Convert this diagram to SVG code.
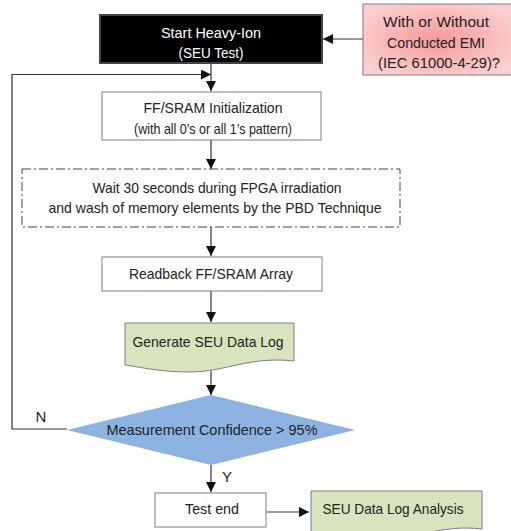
<svg xmlns="http://www.w3.org/2000/svg" width="511" height="531" viewBox="0 0 511 531">
  <style>
    text { font-family: "Liberation Sans", Arial, sans-serif; font-size: 15px; fill: #222; text-anchor: middle; }
    .box { fill: #ffffff; stroke: #7f7f7f; stroke-width: 1; }
    .doc { fill: #d7e4bd; stroke: #7f7f7f; stroke-width: 1; }
    .wire { fill: none; stroke: #333; stroke-width: 1.2; }
    .wire-arrow { fill: none; stroke: #333; stroke-width: 1.2; marker-end: url(#head); }
  </style>
  <defs>
    <marker id="head" markerUnits="userSpaceOnUse" markerWidth="11" markerHeight="11" refX="10" refY="5" orient="auto">
      <path d="M0,0 L10,5 L0,10 Z" fill="#111"/>
    </marker>
    <radialGradient id="pink" cx="50%" cy="50%" r="60%">
      <stop offset="0" stop-color="#f59a9a"/>
      <stop offset="1" stop-color="#fdd0d0"/>
    </radialGradient>
  </defs>

  <rect width="511" height="531" fill="#ffffff"/>

  <!-- connectors -->
  <g id="connectors">
    <line class="wire-arrow" x1="363" y1="39" x2="323" y2="39"/>
    <line class="wire-arrow" x1="211" y1="63" x2="211" y2="91"/>
    <polyline class="wire-arrow" points="67,429 12,429 12,74.5 211,74.5"/>
    <line class="wire-arrow" x1="211" y1="140" x2="211" y2="169"/>
    <line class="wire-arrow" x1="211" y1="227" x2="211" y2="256"/>
    <line class="wire-arrow" x1="211" y1="291" x2="211" y2="322"/>
    <line class="wire-arrow" x1="211" y1="371" x2="211" y2="395"/>
    <line class="wire-arrow" x1="211" y1="465" x2="211" y2="492"/>
    <line class="wire-arrow" x1="267" y1="512" x2="309" y2="512"/>
    <text x="41" y="422">N</text>
    <text x="227" y="482">Y</text>
  </g>

  <!-- start -->
  <g id="start">
    <rect x="100" y="15" width="222" height="48" fill="#000" stroke="#444" stroke-width="2"/>
    <text x="211" y="38" style="fill:#fff" textLength="100" lengthAdjust="spacingAndGlyphs">Start Heavy-Ion</text>
    <text x="211" y="58" style="fill:#fff" textLength="65" lengthAdjust="spacingAndGlyphs">(SEU Test)</text>
  </g>

  <!-- EMI condition -->
  <g id="emi">
    <rect x="363" y="4" width="150" height="71" fill="url(#pink)" stroke="#7f7f7f" stroke-width="1"/>
    <text x="436" y="27" textLength="106" lengthAdjust="spacingAndGlyphs">With or Without</text>
    <text x="436" y="48" textLength="98" lengthAdjust="spacingAndGlyphs">Conducted EMI</text>
    <text x="439" y="68" textLength="122" lengthAdjust="spacingAndGlyphs">(IEC 61000-4-29)?</text>
  </g>

  <!-- initialization -->
  <g id="init">
    <rect class="box" x="102" y="92" width="219" height="48"/>
    <text x="213" y="113" textLength="139" lengthAdjust="spacingAndGlyphs">FF/SRAM Initialization</text>
    <text x="213" y="134" textLength="158" lengthAdjust="spacingAndGlyphs">(with all 0’s or all 1’s pattern)</text>
  </g>

  <!-- wait / wash -->
  <g id="wait">
    <rect x="22" y="169" width="378" height="58" fill="#fff" stroke="#444" stroke-width="1" stroke-dasharray="9 3 2 3"/>
    <text x="217" y="193" textLength="249" lengthAdjust="spacingAndGlyphs">Wait 30 seconds during FPGA irradiation</text>
    <text x="215" y="213" textLength="333" lengthAdjust="spacingAndGlyphs">and wash of memory elements by the PBD Technique</text>
  </g>

  <!-- readback -->
  <g id="readback">
    <rect class="box" x="102" y="257" width="220" height="34"/>
    <text x="211" y="279" textLength="164" lengthAdjust="spacingAndGlyphs">Readback FF/SRAM Array</text>
  </g>

  <!-- data log -->
  <g id="datalog">
    <path class="doc" d="M125,323 H294 V361 C250,356 225,372 190,372 C160,372 140,367 125,365 Z"/>
    <text x="208" y="347" textLength="151" lengthAdjust="spacingAndGlyphs">Generate SEU Data Log</text>
  </g>

  <!-- decision -->
  <g id="decision">
    <polygon points="211,395 355,430 211,465 67,430" fill="#8db3e2"/>
    <text x="212" y="435" textLength="211" lengthAdjust="spacingAndGlyphs">Measurement Confidence &gt; 95%</text>
  </g>

  <!-- end -->
  <g id="end">
    <rect class="box" x="155" y="493" width="111" height="34"/>
    <text x="212" y="514" textLength="54" lengthAdjust="spacingAndGlyphs">Test end</text>
  </g>

  <!-- analysis -->
  <g id="analysis">
    <path class="doc" d="M311,491 H482 V529 C440,524 415,540 380,540 C350,540 330,534 311,532 Z"/>
    <text x="393" y="514" textLength="141" lengthAdjust="spacingAndGlyphs">SEU Data Log Analysis</text>
  </g>
</svg>
